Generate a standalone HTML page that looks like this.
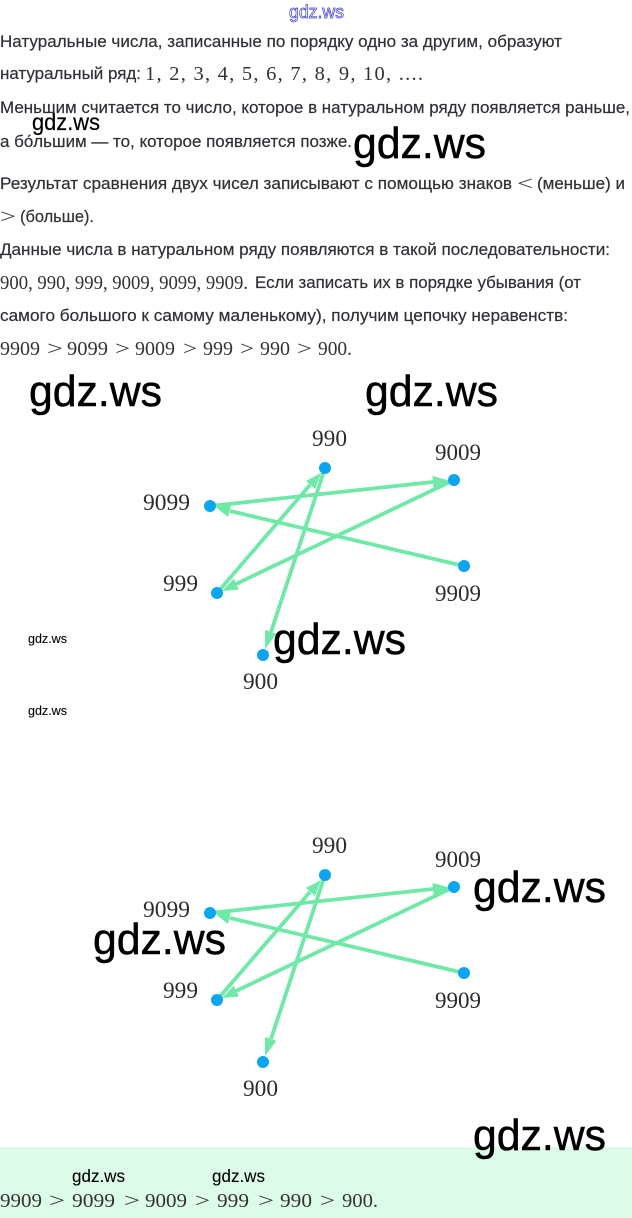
<!DOCTYPE html>
<html><head><meta charset="utf-8"><style>
html,body{margin:0;padding:0;background:#fff}
svg{display:block}
.t{font-family:"Liberation Sans","DejaVu Sans",sans-serif;font-size:16.5px;fill:#2f3136;stroke:#2f3136;stroke-width:.2}
.m{font-family:"Liberation Serif",serif;font-size:20.5px;fill:#333}
.n{font-family:"Liberation Serif",serif;font-size:23px;fill:#2c2c2c}
.g{font-family:"Liberation Sans",sans-serif;fill:#000;stroke:#000;stroke-width:.5}
.l{stroke:#6fe8a8;stroke-width:3.8;fill:none}
.h{fill:#6fe8a8}
.d{fill:#0ea5f0}
</style></head><body>
<svg xmlns="http://www.w3.org/2000/svg" width="632" height="1218" viewBox="0 0 632 1218">
<rect x="0" y="1147" width="632" height="71" fill="#dcfce9"/>

<text x="289" y="18" textLength="55" lengthAdjust="spacingAndGlyphs" font-family="Liberation Sans, sans-serif" font-size="18" fill="#fff" stroke="#3a3ad0" stroke-width="0.7">gdz.ws</text>

<text class="t" x="0" y="47" textLength="562" lengthAdjust="spacingAndGlyphs">Натуральные числа, записанные по порядку одно за другим, образуют</text>
<text class="t" x="0" y="79" textLength="141" lengthAdjust="spacingAndGlyphs">натуральный ряд:</text>
<text class="m" x="145" y="80" textLength="278" lengthAdjust="spacing">1, 2, 3, 4, 5, 6, 7, 8, 9, 10, ....</text>
<text class="t" x="0" y="113" textLength="630" lengthAdjust="spacingAndGlyphs">Меньшим считается то число, которое в натуральном ряду появляется раньше,</text>
<text class="t" x="0" y="147" textLength="352" lengthAdjust="spacingAndGlyphs">а бо́льшим — то, которое появляется позже.</text>
<text class="t" x="0" y="189" textLength="512" lengthAdjust="spacingAndGlyphs">Результат сравнения двух чисел записывают с помощью знаков</text>
<text class="m" x="517" y="190" textLength="16" lengthAdjust="spacingAndGlyphs" fill="#555">&lt;</text>
<text class="t" x="537" y="189" textLength="88" lengthAdjust="spacingAndGlyphs">(меньше) и</text>
<text class="m" x="0" y="223" textLength="16" lengthAdjust="spacingAndGlyphs">&gt;</text>
<text class="t" x="20" y="222" textLength="74" lengthAdjust="spacingAndGlyphs">(больше).</text>
<text class="t" x="0" y="255" textLength="610" lengthAdjust="spacingAndGlyphs">Данные числа в натуральном ряду появляются в такой последовательности:</text>
<text class="m" x="0" y="289" textLength="248" lengthAdjust="spacingAndGlyphs">900, 990, 999, 9009, 9099, 9909.</text>
<text class="t" x="255" y="288" textLength="326" lengthAdjust="spacingAndGlyphs">Если записать их в порядке убывания (от</text>
<text class="t" x="0" y="321" textLength="568" lengthAdjust="spacingAndGlyphs">самого большого к самому маленькому), получим цепочку неравенств:</text>

<text class="m" x="0" y="355" textLength="40" lengthAdjust="spacingAndGlyphs">9909</text>
<text class="m" x="47" y="355" textLength="16" lengthAdjust="spacingAndGlyphs">&gt;</text>
<text class="m" x="67" y="355" textLength="41" lengthAdjust="spacingAndGlyphs">9099</text>
<text class="m" x="115" y="355" textLength="15" lengthAdjust="spacingAndGlyphs">&gt;</text>
<text class="m" x="135" y="355" textLength="40" lengthAdjust="spacingAndGlyphs">9009</text>
<text class="m" x="183" y="355" textLength="14" lengthAdjust="spacingAndGlyphs">&gt;</text>
<text class="m" x="203" y="355" textLength="30" lengthAdjust="spacingAndGlyphs">999</text>
<text class="m" x="240" y="355" textLength="14" lengthAdjust="spacingAndGlyphs">&gt;</text>
<text class="m" x="260" y="355" textLength="30" lengthAdjust="spacingAndGlyphs">990</text>
<text class="m" x="297" y="355" textLength="15" lengthAdjust="spacingAndGlyphs">&gt;</text>
<text class="m" x="318" y="355" textLength="34" lengthAdjust="spacingAndGlyphs">900.</text>

<!-- Diagram 1 -->
<g>
<line class="l" x1="464" y1="566" x2="230" y2="511"/>
<polygon class="h" points="216,507.5 231,505 228,517"/>
<line class="l" x1="210" y1="506" x2="433" y2="482"/>
<polygon class="h" points="449,480.5 433.6,488 432.4,476"/>
<line class="l" x1="454" y1="480" x2="236" y2="584"/>
<polygon class="h" points="222,591 239,589.5 233.8,578.6"/>
<line class="l" x1="217" y1="593" x2="310" y2="485"/>
<polygon class="h" points="321,473 315,489 306,481"/>
<line class="l" x1="325" y1="468" x2="271" y2="632"/>
<polygon class="h" points="265,649 276.4,633.9 265,630"/>
<circle class="d" cx="325" cy="468" r="6"/>
<circle class="d" cx="454" cy="480" r="6"/>
<circle class="d" cx="210" cy="506" r="6"/>
<circle class="d" cx="464" cy="566" r="6"/>
<circle class="d" cx="217" cy="593" r="6"/>
<circle class="d" cx="263" cy="655" r="6"/>
<text class="n" x="312" y="446" textLength="35" lengthAdjust="spacingAndGlyphs">990</text>
<text class="n" x="435" y="460" textLength="46" lengthAdjust="spacingAndGlyphs">9009</text>
<text class="n" x="143" y="510" textLength="47" lengthAdjust="spacingAndGlyphs">9099</text>
<text class="n" x="163" y="591" textLength="35" lengthAdjust="spacingAndGlyphs">999</text>
<text class="n" x="435" y="601" textLength="46" lengthAdjust="spacingAndGlyphs">9909</text>
<text class="n" x="243" y="689" textLength="35" lengthAdjust="spacingAndGlyphs">900</text>
</g>

<!-- Diagram 2 -->
<g transform="translate(0,407)">
<line class="l" x1="464" y1="566" x2="230" y2="511"/>
<polygon class="h" points="216,507.5 231,505 228,517"/>
<line class="l" x1="210" y1="506" x2="433" y2="482"/>
<polygon class="h" points="449,480.5 433.6,488 432.4,476"/>
<line class="l" x1="454" y1="480" x2="236" y2="584"/>
<polygon class="h" points="222,591 239,589.5 233.8,578.6"/>
<line class="l" x1="217" y1="593" x2="310" y2="485"/>
<polygon class="h" points="321,473 315,489 306,481"/>
<line class="l" x1="325" y1="468" x2="271" y2="632"/>
<polygon class="h" points="265,649 276.4,633.9 265,630"/>
<circle class="d" cx="325" cy="468" r="6"/>
<circle class="d" cx="454" cy="480" r="6"/>
<circle class="d" cx="210" cy="506" r="6"/>
<circle class="d" cx="464" cy="566" r="6"/>
<circle class="d" cx="217" cy="593" r="6"/>
<circle class="d" cx="263" cy="655" r="6"/>
<text class="n" x="312" y="446" textLength="35" lengthAdjust="spacingAndGlyphs">990</text>
<text class="n" x="435" y="460" textLength="46" lengthAdjust="spacingAndGlyphs">9009</text>
<text class="n" x="143" y="510" textLength="47" lengthAdjust="spacingAndGlyphs">9099</text>
<text class="n" x="163" y="591" textLength="35" lengthAdjust="spacingAndGlyphs">999</text>
<text class="n" x="435" y="601" textLength="46" lengthAdjust="spacingAndGlyphs">9909</text>
<text class="n" x="243" y="689" textLength="35" lengthAdjust="spacingAndGlyphs">900</text>
</g>

<!-- Bottom chain -->
<text class="m" x="0" y="1207" textLength="42" lengthAdjust="spacingAndGlyphs">9909</text>
<text class="m" x="49" y="1207" textLength="16" lengthAdjust="spacingAndGlyphs">&gt;</text>
<text class="m" x="72" y="1207" textLength="43" lengthAdjust="spacingAndGlyphs">9099</text>
<text class="m" x="124" y="1207" textLength="16" lengthAdjust="spacingAndGlyphs">&gt;</text>
<text class="m" x="145" y="1207" textLength="42" lengthAdjust="spacingAndGlyphs">9009</text>
<text class="m" x="195" y="1207" textLength="15" lengthAdjust="spacingAndGlyphs">&gt;</text>
<text class="m" x="217" y="1207" textLength="32" lengthAdjust="spacingAndGlyphs">999</text>
<text class="m" x="258" y="1207" textLength="16" lengthAdjust="spacingAndGlyphs">&gt;</text>
<text class="m" x="280" y="1207" textLength="32" lengthAdjust="spacingAndGlyphs">990</text>
<text class="m" x="320" y="1207" textLength="15" lengthAdjust="spacingAndGlyphs">&gt;</text>
<text class="m" x="342" y="1207" textLength="36" lengthAdjust="spacingAndGlyphs">900.</text>

<!-- Watermarks -->
<text class="g" font-size="44" x="353" y="158" textLength="133" lengthAdjust="spacingAndGlyphs">gdz.ws</text>
<text class="g" font-size="44" x="29" y="406" textLength="133" lengthAdjust="spacingAndGlyphs">gdz.ws</text>
<text class="g" font-size="44" x="365" y="406" textLength="133" lengthAdjust="spacingAndGlyphs">gdz.ws</text>
<text class="g" font-size="44" x="273" y="654" textLength="133" lengthAdjust="spacingAndGlyphs">gdz.ws</text>
<text class="g" font-size="44" x="473" y="902" textLength="133" lengthAdjust="spacingAndGlyphs">gdz.ws</text>
<text class="g" font-size="44" x="93" y="954" textLength="133" lengthAdjust="spacingAndGlyphs">gdz.ws</text>
<text class="g" font-size="44" x="473" y="1150" textLength="133" lengthAdjust="spacingAndGlyphs">gdz.ws</text>
<text class="g" font-size="23" x="32" y="130" textLength="68" lengthAdjust="spacingAndGlyphs" style="stroke-width:.2">gdz.ws</text>
<text class="g" font-size="13" x="28" y="643" textLength="39" lengthAdjust="spacingAndGlyphs" style="stroke-width:.1">gdz.ws</text>
<text class="g" font-size="13" x="28" y="715" textLength="39" lengthAdjust="spacingAndGlyphs" style="stroke-width:.1">gdz.ws</text>
<text class="g" font-size="17.5" x="72" y="1182" textLength="53" lengthAdjust="spacingAndGlyphs" style="stroke-width:.1">gdz.ws</text>
<text class="g" font-size="17.5" x="212" y="1182" textLength="53" lengthAdjust="spacingAndGlyphs" style="stroke-width:.1">gdz.ws</text>
</svg>
</body></html>
